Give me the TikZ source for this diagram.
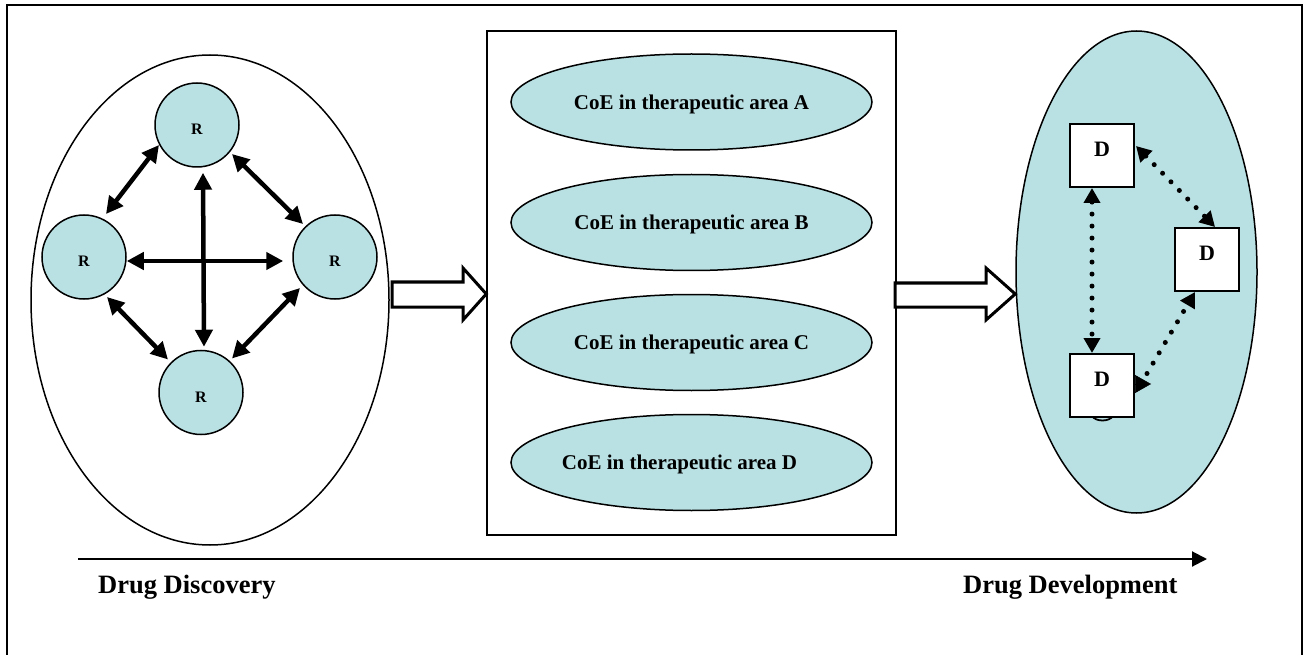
\documentclass[tikz,border=0pt]{standalone}
\usepackage{fontspec}
\setmainfont{Liberation Serif}
\usetikzlibrary{arrows.meta,shapes.geometric}
\definecolor{tq}{RGB}{185,224,227}
\begin{document}
\begin{tikzpicture}[x=1pt,y=-1pt,
  rcirc/.style={circle,draw,line width=1.5pt,fill=tq,minimum size=84pt,inner sep=0pt,
    font=\fontsize{16}{18}\selectfont\bfseries,text height=20pt,text depth=0pt},
  coeell/.style={ellipse,draw,line width=1.5pt,fill=tq,minimum width=361pt,minimum height=96pt,inner sep=0pt,
    font=\fontsize{21}{24}\selectfont\bfseries,text depth=0pt},
  dbox/.style={rectangle,draw,line width=2pt,fill=white,minimum width=64pt,minimum height=63pt,inner sep=0pt,
    font=\fontsize{22}{24}\selectfont\bfseries,text depth=11.5pt},
  rarr/.style={line width=4.5pt,{Triangle[length=17pt,width=17pt]}-{Triangle[length=17pt,width=17pt]}},
  dotarr/.style={line width=5pt,dash pattern=on 0pt off 12pt,line cap=round,
    {Triangle[length=15pt,width=16pt]}-{Triangle[length=15pt,width=16pt]}},
  hollow/.style={draw,line width=3pt,fill=white,line join=miter},
  lab/.style={anchor=base west,inner sep=0pt,font=\fontsize{26.5}{30}\selectfont\bfseries}
]
\useasboundingbox (0,0) rectangle (1307,655);
% outer frame
\draw[line width=1.8pt] (7,5) rectangle (1302,658);

% left group
\node[ellipse,draw,line width=1.5pt,minimum width=358pt,minimum height=490pt,inner sep=0pt] (disc) at (210,300) {};
\node[rcirc] (rT) at (197,125) {R};
\node[rcirc] (rL) at (84,257) {R};
\node[rcirc] (rR) at (335,257) {R};
\node[rcirc] (rB) at (201,392.5) {R};
\draw[rarr] ([shift={(6,5)}]rT.south) -- ([shift={(3,-3)}]rB.north);
\draw[rarr] ([shift={(0,4)}]rL.east) -- ([shift={(-9,4)}]rR.west);
\draw[rarr] ([shift={(-38,20)}]rT.center) -- ([shift={(22,-43)}]rL.center);
\draw[rarr] ([shift={(35,29)}]rT.center) -- ([shift={(-32,-33)}]rR.center);
\draw[rarr] ([shift={(23,40)}]rL.center) -- ([shift={(-33,-33)}]rB.center);
\draw[rarr] ([shift={(-35,31)}]rR.center) -- ([shift={(31,-34)}]rB.center);

% middle group
\node[draw,line width=1.5pt,minimum width=409pt,minimum height=504pt,inner sep=0pt] (coe) at (691.5,283) {};
\node[coeell] (cA) at (691.5,102) {CoE in therapeutic area A};
\node[coeell] (cB) at (691.5,222.5) {CoE in therapeutic area B};
\node[coeell] (cC) at (691.5,342.5) {CoE in therapeutic area C};
\node[coeell] (cD) at (691.5,462.5) {\makebox[0pt]{CoE in therapeutic area D\hspace*{24pt}}};

% right group
\node[ellipse,draw,line width=1.5pt,fill=tq,minimum width=241pt,minimum height=482pt,inner sep=0pt] (dev) at (1136.5,272) {};
\draw[line width=1.8pt] (1092,416) .. controls (1096,422) and (1109,422) .. (1113,416);
\node[dbox] (dT) at (1102,155.5) {D};
\node[dbox] (dR) at (1207,259.5) {D};
\node[dbox] (dB) at (1102,385.5) {D};
\draw[dotarr] ([xshift=-10pt]dT.south) -- ([xshift=-10pt]dB.north);
\draw[dotarr] ([shift={(1,-9.5)}]dT.east) -- ([xshift=8pt]dR.north);
\draw[line width=5pt,dash pattern=on 0pt off 12pt,line cap=round,-{Triangle[length=15pt,width=16pt]}]
  ([shift={(12,-12)}]dB.east) -- ([xshift=-12pt]dR.south);
\draw[line width=0.5pt,-{Triangle[length=16pt,width=18pt]}] ([shift={(0,-1.5)}]dB.east) -- ++(16,0);

% hollow block arrows
\draw[hollow] (392,282) -- (463,282) -- (463,268) -- (coe.west |- 0,294) -- (463,320) -- (463,307) -- (392,307) -- cycle;
\draw[hollow] (895,283) -- (986,283) -- (986,268) -- (dev.west |- 0,294) -- (986,320) -- (986,307) -- (895,307) -- cycle;

% timeline
\coordinate (ts) at (78,559);
\coordinate (te) at (1207,559);
\draw[line width=2pt,-{Triangle[length=15pt,width=15pt]}] (ts) -- (te);
\node[lab] (ldisc) at (98,593) {Drug Discovery};
\node[lab] (ldev) at (963,593) {Drug Development};
\end{tikzpicture}
\end{document}
